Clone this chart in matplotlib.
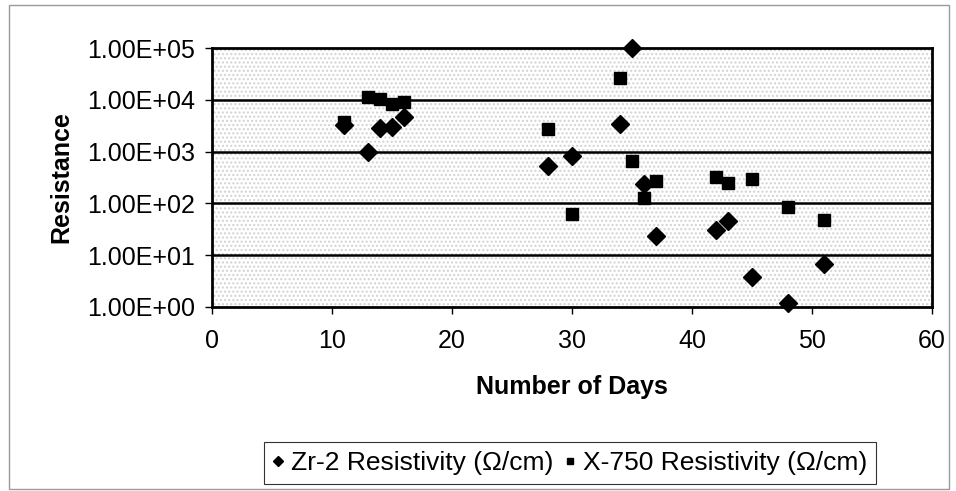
import numpy as np
import matplotlib.pyplot as plt
from matplotlib.patches import Rectangle
from matplotlib.ticker import FixedLocator, FuncFormatter, NullLocator

plt.rcParams['font.family'] = ['Liberation Sans', 'DejaVu Sans']

# Zr-2 resistivity (diamonds)
zr_days = [11, 13, 14, 15, 16, 28, 30, 34, 35, 36, 37, 42, 43, 45, 48, 51]
zr_res = [3300, 1000, 2900, 3000, 4600, 520, 830, 3450, 100000, 235, 23, 30, 45, 3.8, 1.2, 6.8]

# X-750 resistivity (squares)
x750_days = [11, 13, 14, 15, 16, 28, 30, 34, 35, 36, 37, 42, 43, 45, 48, 51]
x750_res = [3800, 11500, 10500, 8200, 9200, 2750, 62, 26500, 650, 125, 275, 330, 250, 300, 87, 47]

y_ticks = [1e0, 1e1, 1e2, 1e3, 1e4, 1e5]
x_ticks = [0, 10, 20, 30, 40, 50, 60]

fig = plt.figure(figsize=(9.56, 4.91), dpi=100)
ax = fig.add_axes([212/956, 1 - 307/491, 720/956, 259/491])

# outer chart border
fig.patches.append(Rectangle((9/956, 2/491), 940/956, 484/491, transform=fig.transFigure,
                             fill=False, edgecolor='#999999', linewidth=1.0))

# speckled look of the scanned plot area
ax.set_facecolor('white')
ax.add_patch(Rectangle((0, 0), 1, 1, transform=ax.transAxes, facecolor='none',
                       edgecolor='#d2d2d2', hatch='....', linewidth=0, zorder=0))

ax.set_yscale('log')
ax.set_xlim(0, 60)
ax.set_ylim(1, 1e5)

for yv in y_ticks[1:-1]:
    ax.axhline(yv, color='black', linewidth=1.8, zorder=1)

ax.plot(zr_days, zr_res, linestyle='none', marker='D', markersize=9, color='black',
        label='Zr-2 Resistivity (\u03a9/cm)', zorder=3, clip_on=False)
ax.plot(x750_days, x750_res, linestyle='none', marker='s', markersize=9, color='black',
        label='X-750 Resistivity (\u03a9/cm)', zorder=3, clip_on=False)

ax.yaxis.set_major_locator(FixedLocator(y_ticks))
ax.yaxis.set_minor_locator(NullLocator())
ax.yaxis.set_major_formatter(FuncFormatter(lambda v, p: '1.00E+%02d' % int(round(np.log10(v)))))
ax.set_xticks(x_ticks)

ax.tick_params(axis='both', labelsize=18, direction='out', length=5, width=1.0, colors='black')
ax.tick_params(axis='x', pad=11)
ax.tick_params(axis='y', pad=7)
for s in ax.spines.values():
    s.set_linewidth(2.0)
    s.set_color('black')

ax.set_ylabel('Resistance', fontsize=18, fontweight='bold', labelpad=10)
ax.set_xlabel('Number of Days', fontsize=18, fontweight='bold', labelpad=16)

leg = fig.legend(loc='center', bbox_to_anchor=(570/956, 1 - 463/491), ncol=2, fontsize=19,
                 frameon=True, fancybox=False, edgecolor='black', handlelength=0.4,
                 handletextpad=0.3, columnspacing=0.4, markerscale=0.55, borderpad=0.35,
                 borderaxespad=0)
leg.get_frame().set_linewidth(0.8)

fig.savefig('out.png', dpi=100)
